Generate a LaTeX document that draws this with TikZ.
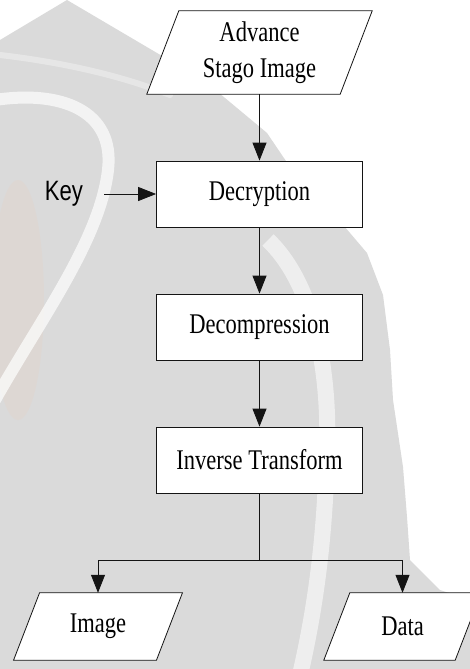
\documentclass[tikz,border=0pt]{standalone}
\usepackage{fontspec}
\setmainfont{Liberation Serif}[FakeStretch=0.79]
\newfontfamily\keyfont{Liberation Sans}[FakeStretch=0.79]
\usetikzlibrary{arrows.meta,backgrounds}
\definecolor{wmgray}{RGB}{218,218,218}
\definecolor{wmpeach}{RGB}{236,205,185}
\definecolor{linecol}{RGB}{20,20,20}
\begin{document}
\begin{tikzpicture}[x=1pt,y=-1pt,
  txt/.style={font=\fontsize{28.5}{36}\selectfont, align=center},
  box/.style={txt, draw=linecol, line width=0.8pt, fill=white,
    minimum width=206pt, minimum height=66pt, inner sep=0pt},
  io/.style={txt, inner sep=0pt},
  shapeline/.style={draw=linecol, line width=0.8pt, fill=white},
  arrow/.style={draw=linecol, line width=0.8pt, -{Triangle[length=18pt,width=14pt]}}]
\useasboundingbox (0,0) rectangle (470,669);

% nodes
\node[io, minimum width=193pt, minimum height=83pt] (src) at (259.5,52.5) {Advance\\Stago Image};
\node[box] (dec) at (259.5,194) {Decryption};
\node[box] (dcp) at (259.5,327) {Decompression};
\node[box] (inv) at (259.5,460) {Inverse Transform};
\node[io, minimum width=142.5pt, minimum height=67pt] (img) at (98,626.5) {Image};
\node[io, minimum width=131pt, minimum height=67pt] (dat) at (402.5,626.5) {Data};
\node[font=\keyfont\fontsize{28}{30}\selectfont, inner sep=0pt, outer xsep=21pt] (key) at (64,194) {Key};
\coordinate (j) at (259.5,560);

% connectors
\draw[arrow] (src.south) -- (dec.north);
\draw[arrow] (key.east) -- (dec.west);
\draw[arrow] (dec.south) -- (dcp.north);
\draw[arrow] (dcp.south) -- (inv.north);
\draw[draw=linecol, line width=0.8pt] (inv.south) -- (j);
\draw[arrow] (j) -| (img.north);
\draw[arrow] (j) -| (dat.north);

\begin{scope}[on background layer]
  \fill[white] (0,0) rectangle (470,669);
  % watermark
  \fill[wmgray] (0,40) -- (67,0) -- (157,53) -- (207,83) -- (267,133) -- (290,167)
     -- (333,213) -- (367,253) -- (383,295) -- (390,350) -- (393,400) -- (403,467)
     -- (407,517) -- (410,560) -- (440,590) -- (470,600) -- (470,669) -- (0,669) -- cycle;
  \fill[wmpeach, opacity=0.2] (18,300) ellipse [x radius=26pt, y radius=120pt];
  \draw[white, line width=6pt, opacity=0.35, line cap=round]
     (0,55) .. controls (60,62) and (120,75) .. (170,95);
  \draw[white, line width=12pt, opacity=0.7]
     (-5,100) .. controls (60,90) and (115,110) .. (108,170)
     .. controls (100,240) and (40,320) .. (-5,400);
  \draw[white, line width=16pt, opacity=0.55]
     (268,240) .. controls (310,280) and (330,360) .. (327,450)
     .. controls (325,540) and (315,610) .. (300,675);
  % parallelogram outlines
  \foreach \n/\s in {src/16,img/13,dat/13}
    \draw[shapeline] ([xshift=-\s pt]\n.south west) -- ([xshift=\s pt]\n.north west)
      -- ([xshift=\s pt]\n.north east) -- ([xshift=-\s pt]\n.south east) -- cycle;
\end{scope}
\end{tikzpicture}
\end{document}
